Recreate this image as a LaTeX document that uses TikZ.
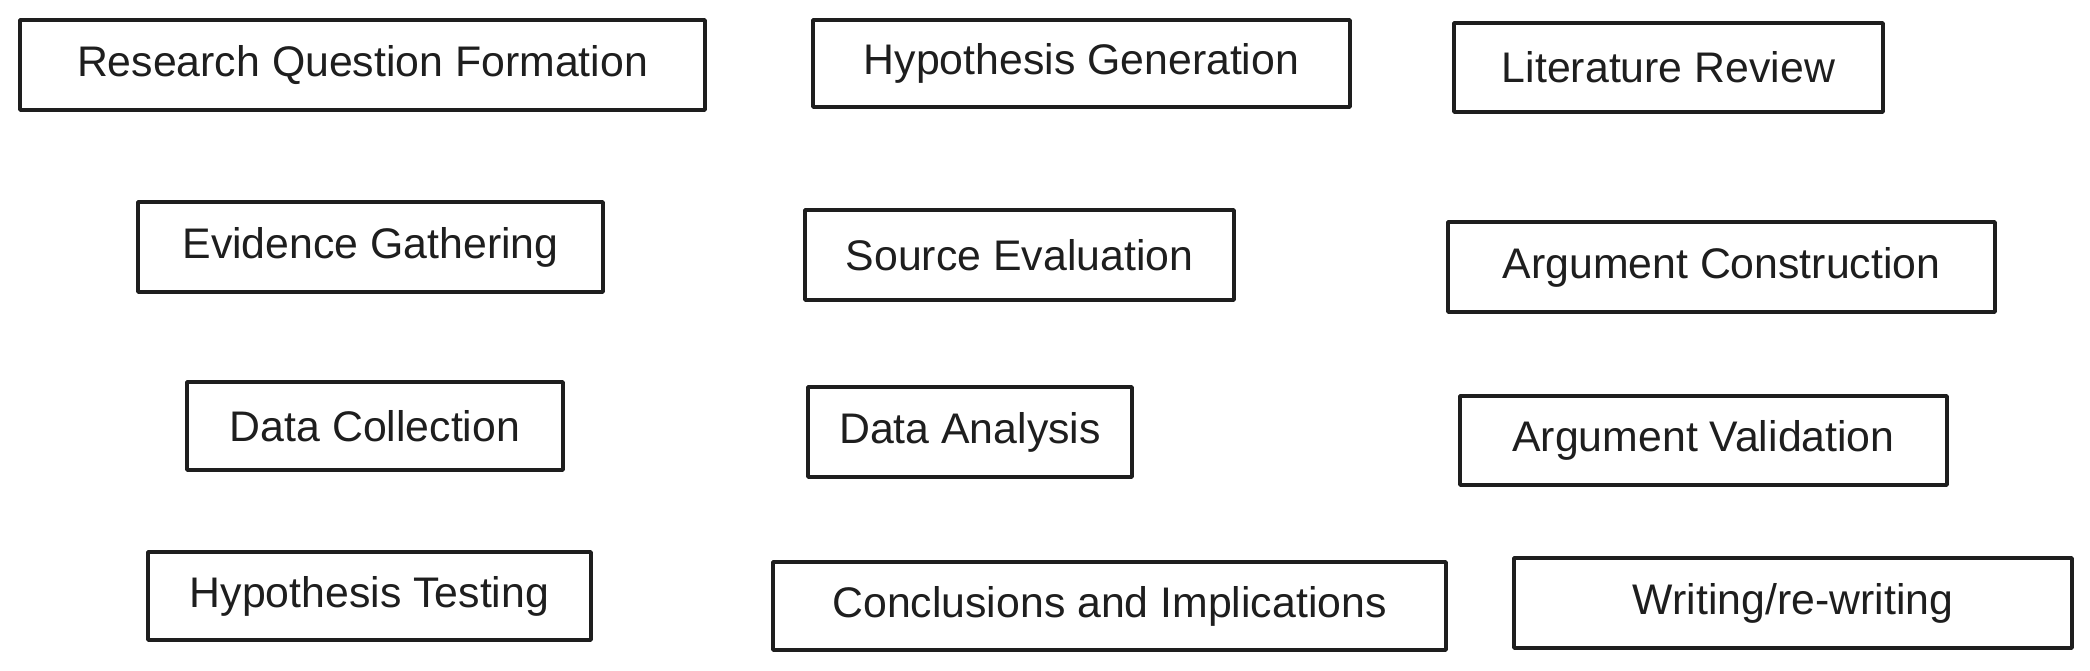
\documentclass[tikz,border=0pt]{standalone}
\usepackage{fontspec}
\setmainfont{Liberation Sans}
\definecolor{ink}{HTML}{1E1E1E}
\tikzset{
  stepbox/.style={draw=ink, line width=1.75pt, inner sep=0pt, text=ink,
    font=\fontsize{21.4}{25}\selectfont, line join=round},
}
\begin{document}
\begin{tikzpicture}[x=0.5pt, y=-0.5pt]
\useasboundingbox (0,0) rectangle (2090,670);
\fill[white] (0,0) rectangle (2090,670);
% row 1
\node[stepbox, minimum width=342.5pt, minimum height=45pt] (rqf) at (362.5,65) {Research Question Formation};
\node[stepbox, minimum width=268.5pt, minimum height=43.5pt] (hg) at (1081.5,63.5) {Hypothesis Generation};
\node[stepbox, minimum width=214.5pt, minimum height=44.5pt] (lr) at (1668.5,67.5) {Literature Review};
% row 2
\node[stepbox, minimum width=232.5pt, minimum height=45pt] (eg) at (370.5,247) {Evidence Gathering};
\node[stepbox, minimum width=214.5pt, minimum height=45pt] (se) at (1019.5,255) {Source Evaluation};
\node[stepbox, minimum width=273.5pt, minimum height=45pt] (ac) at (1721.5,267) {Argument Construction};
% row 3
\node[stepbox, minimum width=188pt, minimum height=44pt] (dc) at (375,426) {Data Collection};
\node[stepbox, minimum width=162pt, minimum height=45pt] (da) at (970,432) {Data Analysis};
\node[stepbox, minimum width=243.5pt, minimum height=44.5pt] (av) at (1703.5,440.5) {Argument Validation};
% row 4
\node[stepbox, minimum width=221.5pt, minimum height=44pt] (ht) at (369.5,596) {Hypothesis Testing};
\node[stepbox, minimum width=336.5pt, minimum height=44pt] (ci) at (1109.5,606) {Conclusions and Implications};
\node[stepbox, minimum width=279pt, minimum height=45pt] (wr) at (1793,603) {Writing/re-writing};
\end{tikzpicture}
\end{document}
